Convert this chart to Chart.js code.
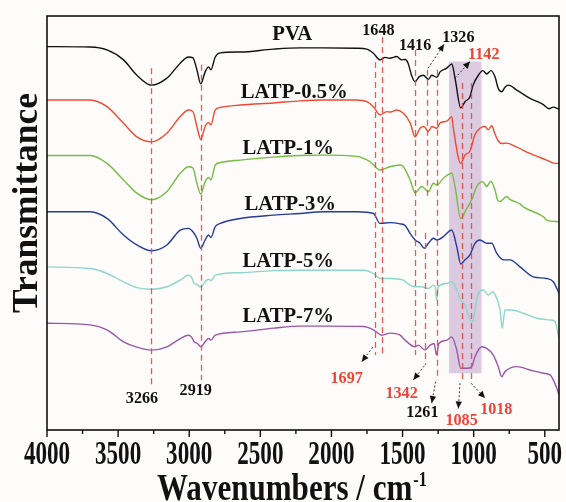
<!DOCTYPE html>
<html>
<head>
<meta charset="utf-8">
<script src="https://cdn.jsdelivr.net/npm/chart.js@4.4.0/dist/chart.umd.min.js"></script>
<style>
  html, body { margin: 0; padding: 0; background: #fdfcfb; }
</style>
</head>
<body>
<canvas id="chart" width="566" height="502"></canvas>
<script>
// FTIR spectra, curves stacked with an offset; y is in arbitrary transmittance units (0-100)
const seriesNames = ['PVA', 'LATP-0.5%', 'LATP-1%', 'LATP-3%', 'LATP-5%', 'LATP-7%'];

// [wavenumber, transmittance]
const pva = [[4000,92.6],[3696,92.5],[3578,91.8],[3462,89.4],[3368,85.7],[3266,83.3],[3157,85.0],[3063,88.6],[3005,90.1],[2974,89.9],[2946,87.0],[2919,83.6],[2888,86.5],[2864,87.7],[2848,87.0],[2817,90.1],[2782,91.1],[2642,91.3],[2408,92.0],[2220,92.3],[2056,92.3],[1822,92.2],[1751,92.0],[1705,91.0],[1658,89.4],[1623,90.0],[1588,89.8],[1541,90.2],[1506,89.4],[1482,89.5],[1461,88.6],[1437,85.7],[1412,84.1],[1384,85.3],[1354,85.7],[1318,84.7],[1295,85.7],[1259,85.2],[1236,86.5],[1189,87.4],[1154,88.4],[1131,85.0],[1091,77.8],[1061,79.3],[1026,80.5],[1004,83.3],[967,85.7],[936,86.8],[908,86.0],[878,86.8],[850,85.3],[827,82.5],[803,81.7],[780,82.8],[756,83.3],[697,82.1],[604,80.1],[510,78.6],[470,77.6],[440,78.0],[400,77.5]];
const latp05 = [[4000,79.7],[3696,79.7],[3578,78.1],[3462,74.1],[3368,70.8],[3266,69.6],[3157,71.7],[3063,75.7],[3005,77.3],[2974,76.9],[2946,73.3],[2919,70.2],[2888,73.3],[2864,74.3],[2848,73.7],[2817,77.3],[2782,77.9],[2642,78.5],[2408,79.0],[2220,79.5],[2056,79.7],[1822,79.7],[1751,79.3],[1705,78.1],[1658,76.1],[1611,76.9],[1588,76.8],[1541,77.3],[1494,76.5],[1447,74.2],[1412,70.8],[1377,72.9],[1350,73.3],[1318,72.1],[1295,73.3],[1259,72.9],[1236,74.2],[1189,74.6],[1154,75.7],[1143,72.9],[1091,64.4],[1061,66.4],[1026,67.4],[991,71.3],[956,72.9],[920,73.3],[897,72.5],[873,73.5],[850,71.5],[827,69.8],[800,69.2],[770,69.3],[700,68.4],[604,66.8],[487,65.2],[428,64.4],[400,64.4]];
const latp1 = [[4000,66.3],[3696,66.3],[3578,64.4],[3462,60.4],[3368,57.2],[3266,55.6],[3157,57.6],[3063,62.0],[3005,63.6],[2974,63.3],[2946,59.6],[2919,57.0],[2888,60.0],[2864,61.0],[2848,60.4],[2817,64.0],[2782,64.6],[2642,65.2],[2408,65.9],[2220,66.3],[2056,66.4],[1822,66.1],[1728,64.8],[1658,62.8],[1588,63.6],[1517,64.0],[1494,63.6],[1447,60.4],[1412,57.3],[1365,58.8],[1318,57.6],[1283,59.6],[1259,59.2],[1213,60.8],[1154,62.0],[1131,58.8],[1091,51.1],[1049,53.5],[1014,55.6],[979,58.8],[936,60.0],[908,58.8],[880,60.1],[850,58.0],[830,55.4],[815,55.2],[768,56.4],[745,55.7],[674,54.6],[651,53.9],[510,51.5],[487,50.7],[400,50.3]];
const latp3 = [[4000,52.7],[3696,52.7],[3578,51.1],[3462,47.1],[3368,44.7],[3266,43.3],[3157,44.7],[3063,48.3],[3005,48.7],[2974,47.9],[2946,46.3],[2919,43.9],[2888,45.9],[2864,47.1],[2848,46.5],[2817,49.1],[2782,49.9],[2642,51.1],[2408,51.9],[2220,52.3],[2056,52.7],[1822,52.7],[1705,52.3],[1658,49.9],[1588,50.1],[1517,49.8],[1482,49.4],[1447,47.5],[1412,45.9],[1377,45.1],[1347,43.9],[1318,45.1],[1283,46.3],[1259,45.9],[1213,46.7],[1201,47.1],[1154,48.3],[1119,44.3],[1091,40.1],[1061,41.1],[1026,42.3],[991,45.1],[956,45.9],[908,45.1],[873,45.1],[838,42.7],[792,41.1],[745,41.1],[674,39.4],[581,37.0],[487,36.6],[440,35.8],[405,33.4],[400,33.0]];
const latp5 = [[4000,39.4],[3696,39.0],[3578,37.8],[3462,35.8],[3368,34.4],[3266,34.0],[3157,34.6],[3063,36.2],[3005,37.4],[2985,37.0],[2965,35.4],[2946,35.2],[2919,34.5],[2888,35.8],[2864,36.4],[2848,36.1],[2817,37.4],[2642,38.0],[2408,38.5],[2220,38.6],[2056,38.6],[1775,38.6],[1705,37.8],[1658,36.6],[1588,36.6],[1494,36.2],[1470,35.5],[1412,34.6],[1365,34.6],[1318,34.2],[1283,35.0],[1270,34.5],[1261,31.4],[1250,34.6],[1189,35.4],[1154,35.8],[1119,33.8],[1091,31.4],[1061,30.2],[1026,26.6],[1007,26.2],[991,29.0],[967,33.0],[932,33.8],[897,32.6],[866,33.4],[838,31.8],[815,29.0],[799,24.6],[780,29.0],[733,29.0],[651,28.2],[557,27.0],[463,26.6],[428,26.2],[400,22.1]];
const latp7 = [[4000,25.8],[3696,25.4],[3578,24.2],[3462,21.3],[3368,20.0],[3266,19.3],[3157,20.1],[3063,22.1],[3005,22.9],[2985,22.5],[2965,21.3],[2942,20.9],[2919,20.1],[2888,21.3],[2864,22.1],[2848,21.7],[2817,22.9],[2642,23.7],[2408,24.6],[2220,25.1],[2056,25.1],[1775,25.0],[1705,24.2],[1646,22.9],[1588,23.4],[1517,22.9],[1482,21.7],[1412,20.1],[1389,20.5],[1342,19.3],[1306,20.5],[1278,20.9],[1261,18.1],[1245,20.9],[1189,21.7],[1154,22.5],[1119,19.3],[1091,14.9],[1049,14.9],[1014,15.3],[991,17.7],[943,20.1],[908,19.7],[862,18.1],[827,15.3],[803,12.9],[780,14.1],[697,15.3],[604,14.5],[510,13.7],[463,13.3],[420,10.5],[400,8.5]];

const xTickValues = [4000, 3500, 3000, 2500, 2000, 1500, 1000, 500];
const peakMarks = [3266, 2919, 1697, 1648, 1416, 1342, 1326, 1261, 1085, 1018];
const shadeBand = [1173, 945];

const allSeries = [pva, latp05, latp1, latp3, latp5, latp7];
const lineColors = ['#111111', '#ef4a30', '#74bd3e', '#263a98', '#8dd6c9', '#9857a9'];

// layout of the annotations (data units)
const markSpan = { 3266: [87.4, 10.9], 2919: [88.2, 12.1], 1697: [88.9, 18.1], 1648: [94.9, 18.1], 1416: [91.8, 18.1],
  1342: [47.6, 15.7], 1326: [87.0, 56.3], 1261: [87.0, 12.1], 1085: [83.8, 11.4], 1018: [83.8, 11.4] };
const shadeSpan = [89.0, 13.7];
const curveLabelPos = [[2276, 94.2], [2262, 80.2], [2304, 66.7], [2290, 53.1], [2304, 39.4], [2304, 26.1]];
const peakLabels = [
  { t: '1648', x: 1670, y: 95.4, c: '#111' }, { t: '1416', x: 1412, y: 91.8, c: '#111' },
  { t: '1326', x: 1108, y: 93.8, c: '#111' }, { t: '1142', x: 929, y: 89.5, c: '#ee4433' },
  { t: '3266', x: 3332, y: 6.5, c: '#111' }, { t: '2919', x: 2954, y: 8.5, c: '#111' },
  { t: '1697', x: 1893, y: 11.4, c: '#ee4433' }, { t: '1342', x: 1507, y: 7.7, c: '#ee4433' },
  { t: '1261', x: 1361, y: 3.1, c: '#111' }, { t: '1085', x: 1085, y: 1.2, c: '#ee4433' },
  { t: '1018', x: 841, y: 3.9, c: '#ee4433' }
];
const arrows = [
  [1320, 87.4, 1208, 93.2], [1131, 85.0, 1026, 89.0], [1709, 20.0, 1787, 16.5], [1347, 15.5, 1424, 12.1],
  [1267, 11.7, 1295, 6.5], [1096, 11.3, 1108, 5.2], [1018, 11.3, 920, 7.7]
];

const serif = '"Liberation Serif", "Times New Roman", serif';

function txt(ctx, s, x, y, size, color, sx) {
  ctx.save();
  ctx.font = 'bold ' + size + 'px ' + serif;
  ctx.fillStyle = color;
  ctx.textAlign = 'center';
  ctx.textBaseline = 'alphabetic';
  ctx.translate(x, y);
  ctx.scale(sx, 1);
  ctx.fillText(s, 0, 0);
  ctx.restore();
}

function arrow(ctx, x1, y1, x2, y2) {
  ctx.save();
  ctx.strokeStyle = '#222';
  ctx.lineWidth = 0.9;
  ctx.setLineDash([2, 2]);
  ctx.beginPath(); ctx.moveTo(x1, y1); ctx.lineTo(x2, y2); ctx.stroke();
  ctx.setLineDash([]);
  const a = Math.atan2(y2 - y1, x2 - x1), L = 7, W = 3.2;
  ctx.fillStyle = '#111';
  ctx.beginPath();
  ctx.moveTo(x2, y2);
  ctx.lineTo(x2 - L * Math.cos(a) + W * Math.sin(a), y2 - L * Math.sin(a) - W * Math.cos(a));
  ctx.lineTo(x2 - L * Math.cos(a) - W * Math.sin(a), y2 - L * Math.sin(a) + W * Math.cos(a));
  ctx.closePath(); ctx.fill();
  ctx.restore();
}

const decor = {
  id: 'decor',
  beforeDraw(chart) {
    const ctx = chart.ctx;
    ctx.save(); ctx.fillStyle = '#fdfcfb'; ctx.fillRect(0, 0, chart.width, chart.height); ctx.restore();
  },
  beforeDatasetsDraw(chart) {
    const { ctx, scales: { x, y } } = chart;
    const x1 = x.getPixelForValue(shadeBand[0]), x2 = x.getPixelForValue(shadeBand[1]);
    const y1 = y.getPixelForValue(shadeSpan[0]), y2 = y.getPixelForValue(shadeSpan[1]);
    ctx.save(); ctx.fillStyle = '#dccae1'; ctx.fillRect(x1, y1, x2 - x1, y2 - y1); ctx.restore();
  },
  afterDatasetsDraw(chart) {
    const { ctx, chartArea: a, scales: { x, y } } = chart;
    // dashed peak lines
    ctx.save();
    ctx.strokeStyle = 'rgba(236,72,55,0.9)';
    ctx.lineWidth = 1.3;
    ctx.setLineDash([6, 4]);
    peakMarks.forEach(w => {
      const px = Math.round(x.getPixelForValue(w)) + 0.5;
      ctx.beginPath();
      ctx.moveTo(px, y.getPixelForValue(markSpan[w][0]));
      ctx.lineTo(px, y.getPixelForValue(markSpan[w][1]));
      ctx.stroke();
    });
    ctx.restore();

    arrows.forEach(r => arrow(ctx, x.getPixelForValue(r[0]), y.getPixelForValue(r[1]), x.getPixelForValue(r[2]), y.getPixelForValue(r[3])));

    peakLabels.forEach(p => txt(ctx, p.t, x.getPixelForValue(p.x), y.getPixelForValue(p.y), 17, p.c, 0.95));
    seriesNames.forEach((n, i) => txt(ctx, n, x.getPixelForValue(curveLabelPos[i][0]), y.getPixelForValue(curveLabelPos[i][1]), 22, '#111', 0.94));

    // frame
    ctx.save();
    ctx.strokeStyle = '#111';
    ctx.lineWidth = 1.6;
    ctx.strokeRect(a.left, a.top, a.right - a.left, a.bottom - a.top);
    // ticks
    ctx.lineWidth = 1.4;
    ctx.beginPath();
    xTickValues.forEach(v => {
      const px = x.getPixelForValue(v);
      ctx.moveTo(px, a.bottom); ctx.lineTo(px, a.bottom + 7);
      if (v - 250 >= 400) {
        const mx = x.getPixelForValue(v - 250);
        ctx.moveTo(mx, a.bottom); ctx.lineTo(mx, a.bottom + 4);
      }
    });
    ctx.stroke();
    ctx.restore();

    xTickValues.forEach(v => txt(ctx, String(v), x.getPixelForValue(v), a.bottom + 34, 33, '#111', 0.7));

    // x title with superscript
    ctx.save();
    ctx.fillStyle = '#111';
    ctx.font = 'bold 38px ' + serif;
    const main = 'Wavenumbers / cm';
    const w1 = ctx.measureText(main).width;
    ctx.font = 'bold 20px ' + serif;
    const w2 = ctx.measureText('-1').width;
    const sx = 269 / (w1 + w2);
    const left = 291.5 - 269 / 2;
    ctx.translate(left, a.bottom + 70);
    ctx.scale(sx, 1);
    ctx.textAlign = 'left';
    ctx.font = 'bold 38px ' + serif;
    ctx.fillText(main, 0, 0);
    ctx.font = 'bold 20px ' + serif;
    ctx.fillText('-1', w1 + 1, -14);
    ctx.restore();

    // y title
    ctx.save();
    ctx.fillStyle = '#111';
    ctx.font = 'bold 35px ' + serif;
    const tw = ctx.measureText('Transmittance').width;
    ctx.translate(37, 203);
    ctx.rotate(-Math.PI / 2);
    ctx.scale(220 / tw, 1);
    ctx.textAlign = 'center';
    ctx.fillText('Transmittance', 0, 0);
    ctx.restore();
  }
};

new Chart(document.getElementById('chart').getContext('2d'), {
  type: 'line',
  data: {
    datasets: allSeries.map((s, i) => ({
      label: seriesNames[i],
      data: s.map(p => ({ x: p[0], y: p[1] })),
      borderColor: lineColors[i],
      borderWidth: 1.4,
      pointRadius: 0,
      cubicInterpolationMode: 'monotone'
    }))
  },
  options: {
    responsive: false,
    animation: false,
    layout: { padding: { left: 47, right: 7, top: 16, bottom: 72 } },
    plugins: { legend: { display: false }, tooltip: { enabled: false } },
    scales: {
      x: { type: 'linear', reverse: true, min: 400, max: 4000, display: false },
      y: { min: 0, max: 100, display: false }
    }
  },
  plugins: [decor]
});
</script>
</body>
</html>
